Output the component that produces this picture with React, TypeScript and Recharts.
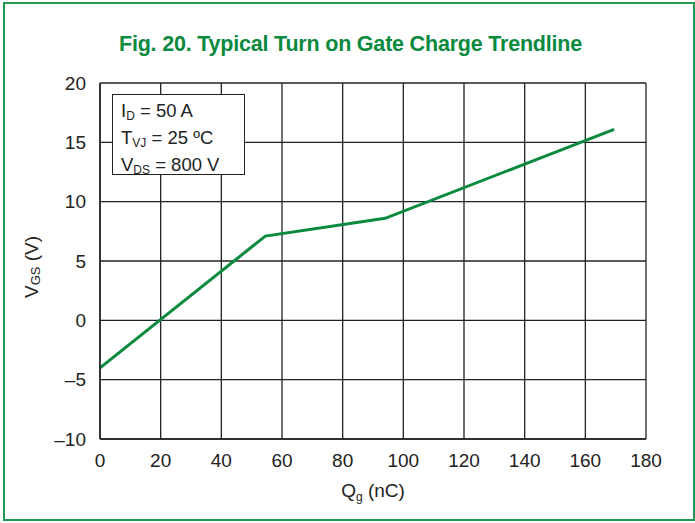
import React from "react";
import { CartesianGrid, Label, Line, LineChart, XAxis, YAxis } from "recharts";

// gate charge (nC) vs gate-source voltage (V)
const qg = [0, 54.5, 94, 169.5];
const vgs = [-4, 7.1, 8.6, 16.1];

const xTicks = [0, 20, 40, 60, 80, 100, 120, 140, 160, 180];
const yTicks = [-10, -5, 0, 5, 10, 15, 20];

const data = qg.map((q, i) => ({ q, v: vgs[i] }));

const green = "#0a8a3e";
const font = "'Liberation Sans', Arial, sans-serif";

const fmtY = (v: number) => (v < 0 ? `\u2013${Math.abs(v)}` : `${v}`);

const subStyle = { fontSize: 12, verticalAlign: -3 };

export default function App() {
  return (
    <div
      style={{
        position: "absolute",
        left: 0,
        top: 0,
        width: 695,
        height: 523,
        background: "#fff",
        fontFamily: font,
      }}
    >
      <div
        style={{
          position: "absolute",
          left: 3,
          top: 2,
          width: 688,
          height: 515,
          border: "2px solid #1f9a55",
        }}
      />
      <div
        style={{
          position: "absolute",
          left: 0,
          top: 32,
          width: 701,
          textAlign: "center",
          color: green,
          fontWeight: "bold",
          fontSize: 21.5,
          letterSpacing: -0.2,
        }}
      >
        Fig. 20. Typical Turn on Gate Charge Trendline
      </div>
      <div style={{ position: "absolute", left: 0, top: 0 }}>
        <LineChart
          width={695}
          height={523}
          data={data}
          margin={{ top: 83, right: 49, bottom: 39, left: 40 }}
        >
          <CartesianGrid stroke="#222" strokeWidth={1.3} />
          <XAxis
            dataKey="q"
            type="number"
            domain={[0, 180]}
            ticks={xTicks}
            tickLine={false}
            axisLine={{ stroke: "#222", strokeWidth: 1.5 }}
            tick={{ fontSize: 19, fill: "#222", fontFamily: font }}
            tickMargin={9}
            height={45}
            interval={0}
          >
            <Label
              content={({ viewBox }: any) => (
                <text
                  x={viewBox.x + viewBox.width / 2}
                  y={viewBox.y + 58}
                  textAnchor="middle"
                  fontSize={19}
                  fill="#222"
                  fontFamily={font}
                >
                  Q<tspan dy={4} fontSize={12}>g</tspan>
                  <tspan dy={-4}> (nC)</tspan>
                </text>
              )}
            />
          </XAxis>
          <YAxis
            type="number"
            domain={[-10, 20]}
            ticks={yTicks}
            tickFormatter={fmtY}
            tickLine={false}
            axisLine={{ stroke: "#222", strokeWidth: 1.5 }}
            tick={{ fontSize: 19, fill: "#222", fontFamily: font }}
            tickMargin={8}
            width={60}
            interval={0}
          >
            <Label
              content={({ viewBox }: any) => {
                const cx = 33;
                const cy = viewBox.y + viewBox.height / 2 + 6;
                return (
                  <text
                    x={cx}
                    y={cy}
                    transform={`rotate(-90, ${cx}, ${cy})`}
                    textAnchor="middle"
                    fontSize={19}
                    fill="#222"
                    fontFamily={font}
                    dominantBaseline="middle"
                  >
                    V<tspan dy={4} fontSize={13}>GS</tspan>
                    <tspan dy={-4}> (V)</tspan>
                  </text>
                );
              }}
            />
          </YAxis>
          <Line
            dataKey="v"
            stroke={green}
            strokeWidth={3}
            dot={false}
            isAnimationActive={false}
          />
        </LineChart>
      </div>
      <div
        style={{
          position: "absolute",
          left: 112,
          top: 94,
          width: 133,
          height: 81,
          border: "1.5px solid #222",
          background: "#fff",
          color: "#222",
          fontSize: 18.5,
          lineHeight: "21px",
          paddingLeft: 8,
          paddingTop: 5,
          boxSizing: "border-box",
          whiteSpace: "nowrap",
        }}
      >
        <div>
          I<sub style={subStyle}>D</sub> = 50 A
        </div>
        <div>
          T<sub style={subStyle}>VJ</sub> = 25 ºC
        </div>
        <div>
          V<sub style={subStyle}>DS</sub> = 800 V
        </div>
      </div>
    </div>
  );
}
